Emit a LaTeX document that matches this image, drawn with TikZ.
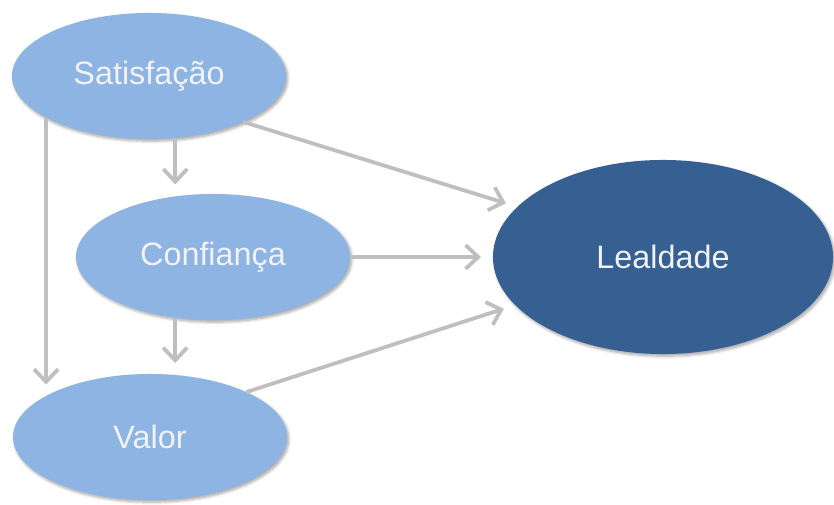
\documentclass[tikz,border=0pt]{standalone}
\usepackage{fontspec}
\setmainfont{Liberation Sans}
\usetikzlibrary{arrows.meta, shapes.geometric, shadows.blur}
\definecolor{SkyBlue}{HTML}{8DB4E2}
\definecolor{DeepBlue}{HTML}{366092}
\definecolor{ArrowGray}{HTML}{BFBFBF}
\definecolor{TextWhite}{HTML}{F2F2F2}

\begin{document}
\begin{tikzpicture}[
      x=0.025cm, y=-0.025cm,
      every node/.style={align=center, font=\fontsize{23}{27}\selectfont, text=TextWhite},
      oval/.style={ellipse, fill=SkyBlue, minimum width=6.85cm, minimum height=3.15cm, outer sep=0pt,
         blur shadow={shadow blur steps=6, shadow xshift=1.2pt, shadow yshift=-1.5pt, shadow blur radius=2pt, shadow opacity=35}},
      bigoval/.style={oval, fill=DeepBlue, minimum width=8.5cm, minimum height=4.85cm},
      arr/.style={-{Straight Barb[length=9pt, width=17pt]}, line width=2.7pt, ArrowGray, shorten >=0.3cm}
   ]
      \useasboundingbox (0,0) rectangle (834,505);
      \node[oval] (sat) at (149,76) {Satisfação};
      \node[oval] (conf) at (213,257) {Confiança};
      \node[oval] (val) at (150,437) {Valor};
      \node[bigoval] (leal) at (663,257) {Lealdade};
      \draw[arr] (sat.-26) -- (leal.161.6);
      \draw[arr] (conf) -- (leal);
      \draw[arr] (val.25) -- (leal.198.4);
      \draw[arr] (sat.-67.8) -- (sat.-67.8 |- conf.122.1);
      \draw[arr] (conf.-122.1) -- (conf.-122.1 |- val.68);
      \draw[arr] (sat.-158.1) -- (sat.-158.1 |- val.159.1);
   \end{tikzpicture}
\end{document}
